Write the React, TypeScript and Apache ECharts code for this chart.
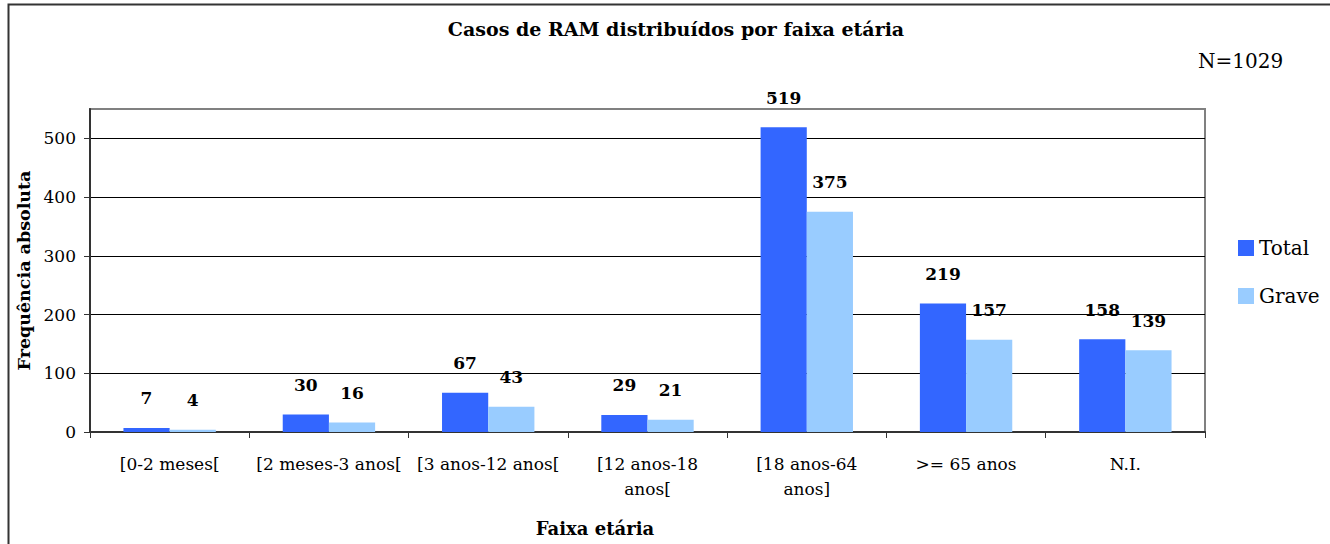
import React, { useEffect, useRef } from "react";
import * as echarts from "echarts";

const categories = [
  "[0-2 meses[",
  "[2 meses-3 anos[",
  "[3 anos-12 anos[",
  "[12 anos-18\nanos[",
  "[18 anos-64\nanos]",
  ">= 65 anos",
  "N.I.",
];
const totalValues = [7, 30, 67, 29, 519, 219, 158];
const graveValues = [4, 16, 43, 21, 375, 157, 139];
const yTicks = [0, 100, 200, 300, 400, 500];

const FONT = "DejaVu Serif";

export default function App() {
  const ref = useRef<HTMLDivElement>(null);
  useEffect(() => {
    if (!ref.current) return;
    const chart = echarts.init(ref.current, null, { renderer: "svg" });
    const labelStyle = {
      show: true,
      position: "top" as const,
      distance: 21,
      fontFamily: FONT,
      fontWeight: "bold" as const,
      fontSize: 17,
      color: "#000",
    };
    chart.setOption({
      animation: false,
      backgroundColor: "#fff",
      title: [
        {
          text: "Casos de RAM distribuídos por faixa etária",
          left: 671,
          textAlign: "center",
          top: 14,
          textStyle: { fontFamily: FONT, fontWeight: "bold", fontSize: 19, color: "#000" },
        },
        {
          text: "N=1029",
          left: 1193,
          top: 46,
          textStyle: { fontFamily: FONT, fontWeight: "normal", fontSize: 20, color: "#000" },
        },
        {
          text: "Faixa etária",
          left: 590,
          textAlign: "center",
          top: 514,
          textStyle: { fontFamily: FONT, fontWeight: "bold", fontSize: 18, color: "#000" },
        },
      ],
      legend: {
        orient: "vertical",
        left: 1233,
        top: 233,
        itemWidth: 16,
        itemHeight: 16,
        itemGap: 28,
        itemStyle: { borderWidth: 0 },
        icon: "rect",
        textStyle: { fontFamily: FONT, fontSize: 20, color: "#000" },
        data: ["Total", "Grave"],
      },
      grid: {
        left: 90,
        top: 109,
        right: 125,
        bottom: 112,
        show: true,
        borderColor: "#808080",
        borderWidth: 2,
        backgroundColor: "#fff",
      },
      xAxis: {
        type: "category",
        data: categories,
        axisLine: { lineStyle: { color: "#333", width: 2 } },
        axisTick: { show: true, length: 6, inside: false, lineStyle: { color: "#333" } },
        axisLabel: {
          fontFamily: FONT,
          fontSize: 17,
          color: "#000",
          margin: 19,
          lineHeight: 25,
          interval: 0,
        },
      },
      yAxis: {
        type: "value",
        name: "Frequência absoluta",
        nameLocation: "middle",
        nameGap: 55,
        nameTextStyle: { fontFamily: FONT, fontWeight: "bold", fontSize: 17.5, color: "#000" },
        min: 0,
        max: 550,
        interval: 100,
        axisLine: { show: true, lineStyle: { color: "#333", width: 2 } },
        axisTick: { show: true, length: 6, lineStyle: { color: "#333" }, customValues: yTicks },
        axisLabel: {
          fontFamily: FONT,
          fontSize: 17,
          color: "#000",
          margin: 14,
          customValues: yTicks,
        },
        splitLine: {
          show: true,
          lineStyle: { color: "#000", width: 1 },
        },
      },
      series: [
        {
          name: "Total",
          type: "bar",
          data: totalValues,
          barGap: "0%",
          barCategoryGap: "42%",
          itemStyle: { color: "#3366FF" },
          label: labelStyle,
        },
        {
          name: "Grave",
          type: "bar",
          data: graveValues,
          itemStyle: { color: "#99CCFF" },
          label: labelStyle,
        },
      ],
      graphic: [
        {
          type: "rect",
          silent: true,
          z: 100,
          shape: { x: 8.5, y: 4.5, width: 1400, height: 700 },
          style: { fill: "none", stroke: "#333", lineWidth: 2 },
        },
      ],
    });
    return () => chart.dispose();
  }, []);
  return (
    <div
      ref={ref}
      style={{ position: "fixed", left: 0, top: 0, width: 1330, height: 544 }}
    />
  );
}
